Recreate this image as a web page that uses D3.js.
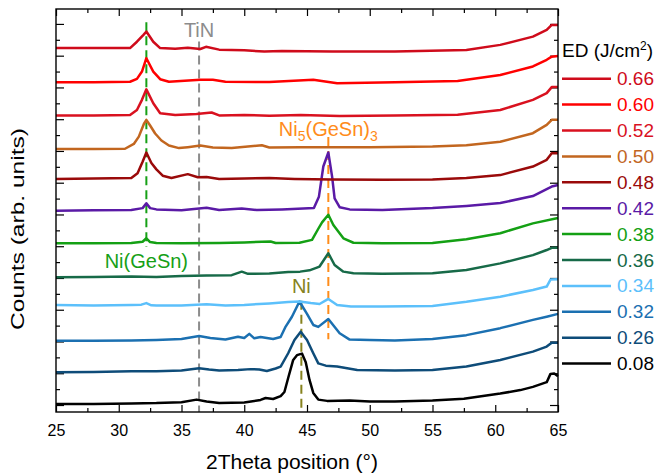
<!DOCTYPE html>
<html>
<head>
<meta charset="utf-8">
<script src="https://cdn.jsdelivr.net/npm/d3@7"></script>
<style>
  body { margin: 0; background: #fff; }
  text { font-family: "Liberation Sans", Arial, sans-serif; }
</style>
</head>
<body>
<div id="chart"></div>
<script>
// laser energy densities (J/cm2), top to bottom as in the legend
const energies = ['0.66', '0.60', '0.52', '0.50', '0.48', '0.42', '0.38', '0.36', '0.34', '0.32', '0.26', '0.08']
const colors = ['#cf0b1b', '#ff0000', '#d9111f', '#c2661f', '#9a0a0a', '#5a1aa6', '#14a014', '#176a48', '#5cc0fb', '#1b70b1', '#0e4c79', '#000000']

// [2theta, counts (arb. units, stacked)]
const ed066 = [[25, 11.24], [28, 11.24], [30.9, 11.24], [31.45, 11.44], [31.95, 11.65], [32.2, 11.76], [32.75, 11.44], [33.3, 11.24], [34.5, 11.22], [35.5, 11.25], [36.5, 11.21], [36.95, 11.28], [38, 11.19], [40, 11.17], [41.6, 11.13], [43, 11.15], [47, 11.13], [52, 11.13], [57.7, 11.18], [60.4, 11.34], [63, 11.6], [64.1, 11.81], [64.5, 11.97], [65, 11.97]]
const ed060 = [[25, 10.16], [28, 10.16], [30.9, 10.18], [31.45, 10.27], [31.85, 10.5], [32.2, 10.92], [32.75, 10.5], [33.3, 10.26], [34, 10.18], [36.5, 10.24], [37.5, 10.24], [38.5, 10.18], [42, 10.17], [45.5, 10.24], [47.4, 10.13], [52, 10.16], [57, 10.2], [60.4, 10.39], [63, 10.66], [64.1, 10.87], [64.5, 10.97], [65, 10.99]]
const ed052 = [[25, 9.12], [28, 9.12], [30.9, 9.13], [31.45, 9.29], [31.85, 9.61], [32.2, 9.94], [32.75, 9.5], [33.3, 9.19], [34.5, 9.13], [36.2, 9.16], [37.4, 9.21], [38, 9.12], [40, 9.13], [42, 9.11], [44.5, 9.13], [47.6, 9.1], [52, 9.12], [57, 9.14], [60.4, 9.29], [63, 9.61], [64.1, 9.82], [64.5, 10.01], [65, 10.01]]
const ed050 = [[25, 8.06], [28, 8.06], [30.5, 8.07], [31.2, 8.22], [31.6, 8.45], [32, 8.85], [32.2, 8.98], [32.5, 8.8], [32.9, 8.55], [33.4, 8.33], [34, 8.17], [34.8, 8.09], [35.5, 8.12], [36.5, 8.17], [37.5, 8.11], [39, 8.09], [41.4, 8.18], [42, 8.11], [44.5, 8.12], [50, 8.12], [55, 8.14], [57.7, 8.18], [60.4, 8.29], [63, 8.56], [64.1, 8.82], [64.5, 8.98], [65, 8.98]]
const ed048 = [[25, 7.12], [28, 7.13], [31, 7.15], [31.5, 7.3], [31.9, 7.66], [32.2, 7.95], [32.6, 7.62], [33, 7.42], [33.5, 7.22], [34.2, 7.15], [35.5, 7.27], [36.3, 7.17], [37, 7.18], [38, 7.12], [40, 7.13], [42, 7.15], [44, 7.12], [47, 7.1], [51, 7.09], [55, 7.1], [57.7, 7.15], [60.4, 7.24], [63, 7.51], [64.1, 7.72], [64.5, 7.93], [65, 7.93]]
const ed042 = [[25, 6.12], [28, 6.13], [31, 6.14], [31.9, 6.2], [32.2, 6.35], [32.5, 6.2], [33, 6.16], [35, 6.13], [37, 6.21], [38, 6.14], [39.8, 6.19], [41, 6.14], [43, 6.16], [45.55, 6.2], [45.95, 6.56], [46.3, 7.51], [46.7, 7.95], [47, 7.19], [47.2, 6.51], [47.6, 6.23], [48.4, 6.16], [51, 6.14], [55, 6.2], [57.7, 6.27], [60.4, 6.36], [63, 6.58], [64.1, 6.8], [64.5, 6.88], [65, 6.93]]
const ed038 = [[25, 5.09], [28, 5.09], [31, 5.1], [31.9, 5.14], [32.2, 5.25], [32.5, 5.13], [33, 5.1], [35, 5.09], [38, 5.1], [40, 5.12], [42.1, 5.15], [42.5, 5.1], [44.4, 5.11], [45.4, 5.2], [45.9, 5.55], [46.2, 5.75], [46.7, 5.99], [47.1, 5.67], [47.9, 5.25], [48.7, 5.11], [51, 5.09], [55, 5.1], [57.7, 5.22], [60.4, 5.41], [63, 5.72], [65, 5.89]]
const ed036 = [[25, 4.02], [28, 4.03], [31, 4.05], [33, 4.03], [35, 4.06], [37, 4.08], [39, 4.09], [39.8, 4.2], [40.3, 4.13], [42, 4.14], [43.5, 4.19], [44.45, 4.2], [45.2, 4.24], [46, 4.36], [46.7, 4.78], [47.2, 4.41], [47.9, 4.2], [48.7, 4.15], [51, 4.13], [55, 4.15], [57.7, 4.25], [60.4, 4.46], [63, 4.72], [64.1, 4.88], [64.5, 4.95], [65, 4.95]]
const ed034 = [[25, 3.15], [28, 3.13], [31, 3.15], [31.8, 3.16], [32.2, 3.21], [32.6, 3.14], [33, 3.13], [35, 3.13], [37, 3.17], [38.5, 3.13], [40, 3.15], [42, 3.2], [43.5, 3.24], [44.4, 3.26], [45.3, 3.21], [46, 3.18], [46.7, 3.34], [47.4, 3.15], [48.5, 3.1], [51, 3.1], [55, 3.12], [57.7, 3.25], [60.4, 3.41], [63, 3.62], [64.1, 3.73], [64.4, 3.95], [65, 3.96]]
const ed032 = [[25, 2.02], [28, 2.02], [31, 2.03], [33, 2.05], [35, 2.08], [36.4, 2.17], [37.3, 2.11], [38.5, 2.06], [39.5, 2.15], [40, 2.11], [40.4, 2.24], [40.8, 2.1], [41.3, 2.14], [42.3, 2.08], [42.9, 2.14], [43.3, 2.47], [43.8, 2.78], [44.4, 3.26], [45, 2.87], [45.5, 2.52], [45.9, 2.46], [46.7, 2.71], [47.6, 2.26], [48.4, 2.06], [50, 2.05], [52, 2.03], [55, 2.08], [57.7, 2.2], [60.4, 2.42], [63, 2.68], [64.1, 2.78], [65, 2.87]]
const ed026 = [[25, 1.03], [28, 1.04], [31, 1.06], [33, 1.06], [35, 1.09], [36.4, 1.16], [37.2, 1.12], [38, 1.09], [39.5, 1.1], [40.5, 1.13], [41.2, 1.12], [41.8, 1.07], [42.5, 1.15], [42.9, 1.21], [43.5, 1.63], [44, 2.05], [44.5, 2.31], [45, 2.05], [45.5, 1.63], [45.9, 1.31], [46.5, 1.24], [47.4, 1.21], [49, 1.1], [52, 1.09], [55, 1.1], [57.7, 1.21], [60.4, 1.42], [63, 1.68], [64.1, 1.84], [64.5, 1.96], [65, 1.96]]
const ed008 = [[25, 0.03], [28, 0.03], [31, 0.05], [33, 0.06], [35, 0.09], [36.2, 0.17], [37, 0.11], [38, 0.06], [40, 0.08], [41.3, 0.16], [41.7, 0.22], [42.3, 0.19], [42.9, 0.28], [43.2, 0.41], [43.5, 0.85], [43.9, 1.42], [44.2, 1.57], [44.6, 1.62], [44.9, 1.35], [45.2, 0.79], [45.5, 0.38], [45.9, 0.17], [46.6, 0.13], [48.4, 0.14], [50, 0.11], [52, 0.11], [55, 0.14], [57.5, 0.2], [60.4, 0.36], [62, 0.47], [63, 0.57], [64.1, 0.72], [64.4, 0.98], [64.7, 0.99], [65, 0.91]]
const spectra = [ed066, ed060, ed052, ed050, ed048, ed042, ed038, ed036, ed034, ed032, ed026, ed008]

// phase reference positions: 2theta, dashed line extent, label height
const phaseNames = ['Ni(GeSn)', 'TiN', 'Ni5(GeSn)3', 'Ni']
const phaseTheta = [32.2, 36.4, 46.7, 44.55]
const phaseTop = [12.05, 11.45, 8.44, 3.28]
const phaseBottom = [4.98, -0.22, 2.07, -0.22]
const phaseLabelY = [4.31, 11.58, 8.47, 3.52]
const phaseColors = ['#16a016', '#8c8c8c', '#ff8c1a', '#86821e']

const xTicks = [25, 30, 35, 40, 45, 50, 55, 60, 65]

const width = 655
const height = 474
const margin = { top: 9, right: 97, bottom: 62, left: 56 }
const innerW = width - margin.left - margin.right
const innerH = height - margin.top - margin.bottom

const svg = d3.select('#chart')
  .append('svg')
  .attr('width', width)
  .attr('height', height)

const g = svg.append('g').attr('transform', `translate(${margin.left},${margin.top})`)

const x = d3.scaleLinear().domain([25, 65]).range([0, innerW])
const y = d3.scaleLinear().domain([-0.22, 12.47]).range([innerH, 0])

const minorX = d3.range(27.5, 65, 5)
const majorY = d3.range(0, 13, 1)
const minorY = d3.range(0.5, 12.5, 1)

// axes, ticks pointing inward on all four sides
const bottom = g.append('g').attr('transform', `translate(0,${innerH})`)
  .call(d3.axisBottom(x).tickValues(xTicks).tickSizeInner(-7).tickSizeOuter(0).tickPadding(13))
bottom.selectAll('text').attr('font-size', 16).attr('fill', '#000')
g.append('g').attr('transform', `translate(0,${innerH})`)
  .call(d3.axisBottom(x).tickValues(minorX).tickSizeInner(-4).tickSizeOuter(0).tickFormat(''))
g.append('g')
  .call(d3.axisTop(x).tickValues(xTicks).tickSizeInner(-7).tickSizeOuter(0).tickFormat(''))
g.append('g')
  .call(d3.axisTop(x).tickValues(minorX).tickSizeInner(-4).tickSizeOuter(0).tickFormat(''))
g.append('g')
  .call(d3.axisLeft(y).tickValues(majorY).tickSizeInner(-8).tickSizeOuter(0).tickFormat(''))
g.append('g')
  .call(d3.axisLeft(y).tickValues(minorY).tickSizeInner(-4).tickSizeOuter(0).tickFormat(''))
g.append('g').attr('transform', `translate(${innerW},0)`)
  .call(d3.axisRight(y).tickValues(majorY).tickSizeInner(-8).tickSizeOuter(0).tickFormat(''))
g.append('g').attr('transform', `translate(${innerW},0)`)
  .call(d3.axisRight(y).tickValues(minorY).tickSizeInner(-4).tickSizeOuter(0).tickFormat(''))
g.selectAll('.tick line').attr('stroke', '#000').attr('stroke-width', 1.2)
g.selectAll('.domain').remove()

// dashed phase markers
phaseNames.forEach((name, i) => {
  g.append('line')
    .attr('x1', x(phaseTheta[i])).attr('x2', x(phaseTheta[i]))
    .attr('y1', y(phaseTop[i])).attr('y2', y(phaseBottom[i]))
    .attr('stroke', phaseColors[i])
    .attr('stroke-width', 2)
    .attr('stroke-dasharray', '9,5')
})

const line = d3.line().x(d => x(d[0])).y(d => y(d[1]))

// draw bottom spectrum first so upper ones sit on top
spectra.slice().reverse().forEach((s, j) => {
  const i = spectra.length - 1 - j
  g.append('path')
    .datum(s)
    .attr('d', line)
    .attr('fill', 'none')
    .attr('stroke', colors[i])
    .attr('stroke-width', 2.5)
    .attr('stroke-linejoin', 'round')
})

// phase labels
const lab = g.append('g').attr('font-size', 20).attr('text-anchor', 'middle')
lab.append('text').attr('x', x(phaseTheta[0])).attr('y', y(phaseLabelY[0]))
  .attr('fill', phaseColors[0]).text(phaseNames[0])
lab.append('text').attr('x', x(phaseTheta[1])).attr('y', y(phaseLabelY[1]))
  .attr('fill', phaseColors[1]).text(phaseNames[1])
const ni5 = lab.append('text').attr('x', x(phaseTheta[2])).attr('y', y(phaseLabelY[2]))
  .attr('fill', phaseColors[2])
ni5.append('tspan').text('Ni')
ni5.append('tspan').attr('font-size', 14).attr('dy', 5).text('5')
ni5.append('tspan').attr('dy', -5).text('(GeSn)')
ni5.append('tspan').attr('font-size', 14).attr('dy', 5).text('3')
lab.append('text').attr('x', x(phaseTheta[3])).attr('y', y(phaseLabelY[3]))
  .attr('fill', phaseColors[3]).text(phaseNames[3])

// frame
g.append('rect')
  .attr('width', innerW).attr('height', innerH)
  .attr('fill', 'none').attr('stroke', '#000').attr('stroke-width', 1.4)

// axis titles
svg.append('text')
  .attr('x', margin.left + x(43.8)).attr('y', 469)
  .attr('text-anchor', 'middle').attr('font-size', 20)
  .attr('textLength', 172).attr('lengthAdjust', 'spacingAndGlyphs')
  .text('2Theta position (°)')
svg.append('text')
  .attr('transform', 'translate(24,229) rotate(-90)')
  .attr('text-anchor', 'middle').attr('font-size', 18)
  .attr('textLength', 202).attr('lengthAdjust', 'spacingAndGlyphs')
  .text('Counts (arb. units)')

// legend
const legend = svg.append('g').attr('transform', 'translate(562,0)')
const lt = legend.append('text').attr('x', 0).attr('y', 56.7).attr('font-size', 19)
lt.append('tspan').text('ED (J/cm')
lt.append('tspan').attr('font-size', 12).attr('dy', -7).text('2')
lt.append('tspan').attr('dy', 7).text(')')
energies.forEach((e, i) => {
  const ly = 78.7 + i * 25.9
  legend.append('line')
    .attr('x1', 0).attr('x2', 49).attr('y1', ly).attr('y2', ly)
    .attr('stroke', colors[i]).attr('stroke-width', 2.5)
  legend.append('text')
    .attr('x', 55).attr('y', ly + 6.5)
    .attr('font-size', 19).attr('fill', colors[i])
    .text(e)
})
</script>
</body>
</html>
